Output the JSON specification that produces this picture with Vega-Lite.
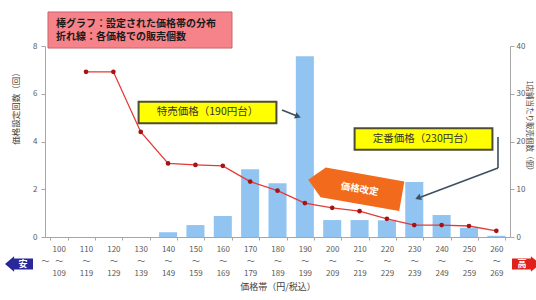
{
  "$schema": "https://vega.github.io/schema/vega-lite/v6.json",
  "width": 465,
  "height": 191,
  "autosize": {"type": "none"},
  "padding": {"left": 45, "top": 46, "right": 26, "bottom": 63},
  "background": "#ffffff",
  "config": {"font": "Noto Sans CJK JP", "view": {"stroke": null}},
  "layer": [
    {
      "data": {"values": [
        {"band": "100～109", "dist": 0, "sales": null},
        {"band": "110～119", "dist": 0, "sales": 34.6},
        {"band": "120～129", "dist": 0, "sales": 34.6},
        {"band": "130～139", "dist": 0, "sales": 22.0},
        {"band": "140～149", "dist": 0.2, "sales": 15.4},
        {"band": "150～159", "dist": 0.5, "sales": 15.1},
        {"band": "160～169", "dist": 0.88, "sales": 14.9},
        {"band": "170～179", "dist": 2.84, "sales": 11.6},
        {"band": "180～189", "dist": 2.25, "sales": 9.7},
        {"band": "190～199", "dist": 7.57, "sales": 7.1},
        {"band": "200～209", "dist": 0.71, "sales": 6.1},
        {"band": "210～219", "dist": 0.71, "sales": 5.4},
        {"band": "220～229", "dist": 0.7, "sales": 3.8},
        {"band": "230～239", "dist": 2.3, "sales": 2.5},
        {"band": "240～249", "dist": 0.92, "sales": 2.5},
        {"band": "250～259", "dist": 0.38, "sales": 2.3},
        {"band": "260～269", "dist": 0.05, "sales": 1.3}
      ]},
      "encoding": {
        "x": {
          "field": "band", "type": "nominal", "sort": null,
          "scale": {"paddingInner": 0.34, "paddingOuter": 0.17},
          "axis": {
            "title": "価格帯（円/税込）", "titleFontSize": 9, "titleFontWeight": "normal", "titleColor": "#404040", "titlePadding": 5,
            "labelExpr": "[slice(datum.label,0,3), '～', slice(datum.label,4)]",
            "labelAngle": 0, "labelFontSize": 8, "labelColor": "#595959", "labelLineHeight": 12, "labelPadding": 5,
            "domainColor": "#a6a6a6", "tickColor": "#a6a6a6", "tickSize": 3, "tickBand": "extent"
          }
        }
      },
      "layer": [
        {
          "mark": {"type": "bar", "color": "#92c4f2"},
          "encoding": {
            "y": {
              "field": "dist", "type": "quantitative",
              "scale": {"domain": [0, 8], "nice": false},
              "axis": {
                "orient": "left", "values": [0, 2, 4, 6, 8], "grid": false,
                "title": "価格設定回数（回）", "titleFontSize": 8.5, "titleFontWeight": "normal", "titleColor": "#404040", "titlePadding": 12, "titleY": 60,
                "labelFontSize": 8, "labelColor": "#595959", "labelPadding": 4,
                "domainColor": "#a6a6a6", "tickColor": "#a6a6a6", "tickSize": 4
              }
            }
          }
        },
        {
          "mark": {"type": "line", "color": "#e53935", "strokeWidth": 1.3,
            "point": {"filled": true, "color": "#a31515", "size": 22, "opacity": 1}},
          "encoding": {
            "y": {
              "field": "sales", "type": "quantitative",
              "scale": {"domain": [0, 40], "nice": false},
              "axis": {
                "orient": "right", "values": [0, 10, 20, 30, 40], "grid": false,
                "title": "1店舗当たり販売個数（個）", "titleFontSize": 7.5, "titleFontWeight": "normal", "titleColor": "#404040", "titlePadding": 0, "titleY": 81,
                "labelFontSize": 8, "labelColor": "#595959", "labelPadding": 2,
                "domainColor": "#a6a6a6", "tickColor": "#a6a6a6", "tickSize": 4
              }
            }
          }
        }
      ],
      "resolve": {"scale": {"y": "independent"}}
    },
    {
      "encoding": {
        "x": {"field": "ax", "type": "quantitative", "scale": {"domain": [0, 17], "nice": false, "zero": false}, "axis": null},
        "y": {"field": "ay", "type": "quantitative", "scale": {"domain": [0, 8], "nice": false, "zero": false}, "axis": null}
      },
      "layer": [
        {
          "data": {"values": [{"ax": 3.473, "ay": 8.67}]},
          "mark": {"type": "point", "shape": "M-1,-0.196L1,-0.196L1,0.196L-1,0.196Z", "size": 33856, "filled": true, "fill": "#f6838a", "stroke": "#c9656c", "strokeWidth": 1, "opacity": 1}
        },
        {
          "data": {"values": [
            {"ax": 0.40, "ay": 8.94, "t": "棒グラフ：設定された価格帯の分布"},
            {"ax": 0.40, "ay": 8.36, "t": "折れ線：各価格での販売個数"}
          ]},
          "mark": {"type": "text", "align": "left", "baseline": "middle", "fontSize": 10, "fontWeight": "bold", "color": "#1a1a1a"},
          "encoding": {"text": {"field": "t"}}
        },
        {
          "data": {"values": [
            {"ax": 8.664, "ay": 5.319, "ax2": 9.213, "ay2": 5.068},
            {"ax": 16.561, "ay": 4.188, "ax2": 16.561, "ay2": 2.89},
            {"ax": 16.561, "ay": 2.89, "ax2": 13.746, "ay2": 1.675}
          ]},
          "mark": {"type": "rule", "color": "#3d4f60", "strokeWidth": 1.6},
          "encoding": {"x2": {"field": "ax2"}, "y2": {"field": "ay2"}}
        },
        {
          "data": {"values": [
            {"ax": 9.249, "ay": 5.047, "ang": 21},
            {"ax": 13.637, "ay": 1.634, "ang": 159}
          ]},
          "mark": {"type": "point", "shape": "triangle-right", "size": 45, "filled": true, "color": "#3d4f60", "opacity": 1},
          "encoding": {"angle": {"field": "ang", "type": "quantitative", "scale": null}}
        },
        {
          "data": {"values": [
            {"ax": 5.941, "ay": 5.215, "box": "a"},
            {"ax": 13.838, "ay": 4.105, "box": "b"}
          ]},
          "mark": {"type": "point", "shape": "M-1,-0.155L1,-0.155L1,0.155L-1,0.155Z", "size": 19000, "filled": true, "fill": "#ffff00", "stroke": "#4d4d33", "strokeWidth": 2, "opacity": 1}
        },
        {
          "data": {"values": [
            {"ax": 5.941, "ay": 5.215, "t": "特売価格（190円台）"},
            {"ax": 13.838, "ay": 4.105, "t": "定番価格（230円台）"}
          ]},
          "mark": {"type": "text", "align": "center", "baseline": "middle", "fontSize": 10.5, "color": "#333333"},
          "encoding": {"text": {"field": "t"}}
        },
        {
          "data": {"values": [{"ax": 11.333, "ay": 2.052}]},
          "mark": {"type": "point", "shape": "M-1,0L-0.68,-0.316L1,-0.316L1,0.316L-0.68,0.316Z", "size": 9025, "angle": 10, "filled": true, "fill": "#f26a1b", "opacity": 1}
        },
        {
          "data": {"values": [{"ax": 11.5, "ay": 2.0, "t": "価格改定"}]},
          "mark": {"type": "text", "align": "center", "baseline": "middle", "fontSize": 9.5, "fontWeight": "bold", "color": "#ffffff", "angle": 10},
          "encoding": {"text": {"field": "t"}}
        },
        {
          "data": {"values": [{"ax": -0.95, "ay": -1.131}]},
          "mark": {"type": "point", "shape": "M-1,0L-0.35,-0.55L-0.35,-0.4L1,-0.4L1,0.4L-0.35,0.4L-0.35,0.55Z", "size": 784, "filled": true, "fill": "#28289a", "opacity": 1}
        },
        {
          "data": {"values": [{"ax": 17.585, "ay": -1.131}]},
          "mark": {"type": "point", "shape": "M1,0L0.35,-0.55L0.35,-0.4L-1,-0.4L-1,0.4L0.35,0.4L0.35,0.55Z", "size": 784, "filled": true, "fill": "#e0201c", "opacity": 1}
        },
        {
          "data": {"values": [
            {"ax": -0.8, "ay": -1.131, "t": "安"},
            {"ax": 17.44, "ay": -1.131, "t": "高"}
          ]},
          "mark": {"type": "text", "align": "center", "baseline": "middle", "fontSize": 9, "fontWeight": "bold", "color": "#ffffff"},
          "encoding": {"text": {"field": "t"}}
        }
      ]
    }
  ],
  "resolve": {"scale": {"x": "independent", "y": "independent"}}
}
